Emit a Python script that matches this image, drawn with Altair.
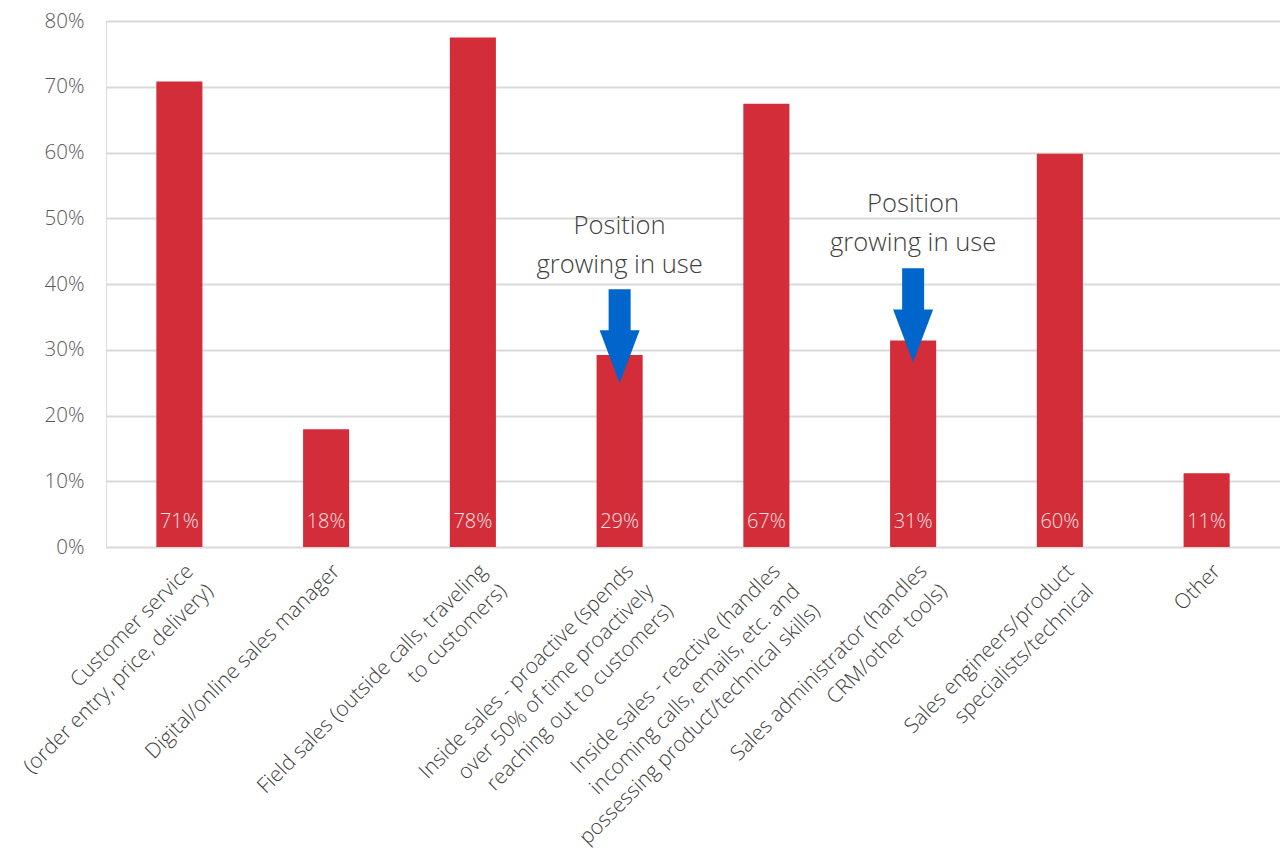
import altair as alt
import pandas as pd

categories = [
    "Customer service\n(order entry, price, delivery)",
    "Digital/online sales manager",
    "Field sales (outside calls, traveling\nto customers)",
    "Inside sales - proactive (spends\nover 50% of time proactively\nreaching out to customers)",
    "Inside sales - reactive (handles\nincoming calls, emails, etc. and\npossessing product/technical skills)",
    "Sales administrator (handles\nCRM/other tools)",
    "Sales engineers/product\nspecialists/technical",
    "Other",
]
values = [0.708, 0.179, 0.775, 0.292, 0.674, 0.314, 0.598, 0.112]
value_labels = ["71%", "18%", "78%", "29%", "67%", "31%", "60%", "11%"]

# annotations (arrows point at growing positions)
ann_categories = [categories[3], categories[5]]
ann_text = ["Position\ngrowing in use", "Position\ngrowing in use"]
ann_text_y = [0.488, 0.522]
arrow_top = [0.392, 0.424]
arrow_head_base = [0.325, 0.357]
arrow_head_mid = [0.2895, 0.321]

bars_df = pd.DataFrame({"cat": categories, "val": values, "lbl": value_labels})
ann_df = pd.DataFrame({
    "cat": ann_categories, "text": ann_text, "ty": ann_text_y,
    "top": arrow_top, "base": arrow_head_base, "mid": arrow_head_mid,
})

FONT = "Open Sans"
RED = "#D32D39"
BLUE = "#0066CC"

x_enc = alt.X(
    "cat:N", sort=categories, title=None,
    scale=alt.Scale(paddingInner=0.686, paddingOuter=0.343),
    axis=alt.Axis(
        labelAngle=-45, labelAlign="right", labelBaseline="top",
        labelExpr="split(datum.label, '\\n')", labelLineHeight=28,
        labelFontSize=21, labelFont=FONT, labelFontWeight=300,
        labelColor="#404040",
        labelPadding=13, labelOffset=3, ticks=False, domain=False,
        labelLimit=0, labelOverlap=False,
    ),
)
y_scale = alt.Scale(domain=[0, 0.8], nice=False)
y_axis = alt.Axis(
    values=[0, 0.1, 0.2, 0.3, 0.4, 0.5, 0.6, 0.7, 0.8], format=".0%",
    labelFontSize=20.5, labelFont=FONT, labelFontWeight=300,
    labelColor="#595959",
    labelPadding=22, ticks=False, domain=False,
    grid=True, gridColor="#d9d9d9", gridWidth=2,
)

bars = alt.Chart(bars_df).mark_bar(color=RED).encode(
    x=x_enc,
    y=alt.Y("val:Q", scale=y_scale, axis=y_axis, title=None),
)

val_text = alt.Chart(bars_df).mark_text(
    font=FONT, fontSize=20, fontWeight=300, color="#ffffff", opacity=0.85,
    baseline="middle", dy=-25,
).encode(
    x=alt.X("cat:N", sort=categories),
    y=alt.datum(0),
    text="lbl:N",
)

shaft = alt.Chart(ann_df).mark_bar(color=BLUE, size=22).encode(
    x=alt.X("cat:N", sort=categories),
    y="top:Q",
    y2="base:Q",
)

head = alt.Chart(ann_df).mark_point(
    shape="M -0.755 -1 L 0.755 -1 L 0 1 Z", size=2809,
    filled=True, color=BLUE, opacity=1, strokeWidth=0,
).encode(
    x=alt.X("cat:N", sort=categories),
    y="mid:Q",
)

ann = alt.Chart(ann_df).mark_text(
    font=FONT, fontSize=25.6, fontWeight=300, color="#404040", lineBreak="\n",
    lineHeight=39, baseline="middle", align="center",
).encode(
    x=alt.X("cat:N", sort=categories),
    y="ty:Q",
    text="text:N",
)

chart = alt.layer(bars, val_text, shaft, head, ann).properties(
    width=1174, height=526,
    autosize=alt.AutoSizeParams(type="none"),
    padding={"left": 106, "top": 21, "right": 0, "bottom": 304},
).configure_view(stroke=None).configure(background="white")

chart.save("out.html", embed_options={"renderer": "svg", "actions": False})
